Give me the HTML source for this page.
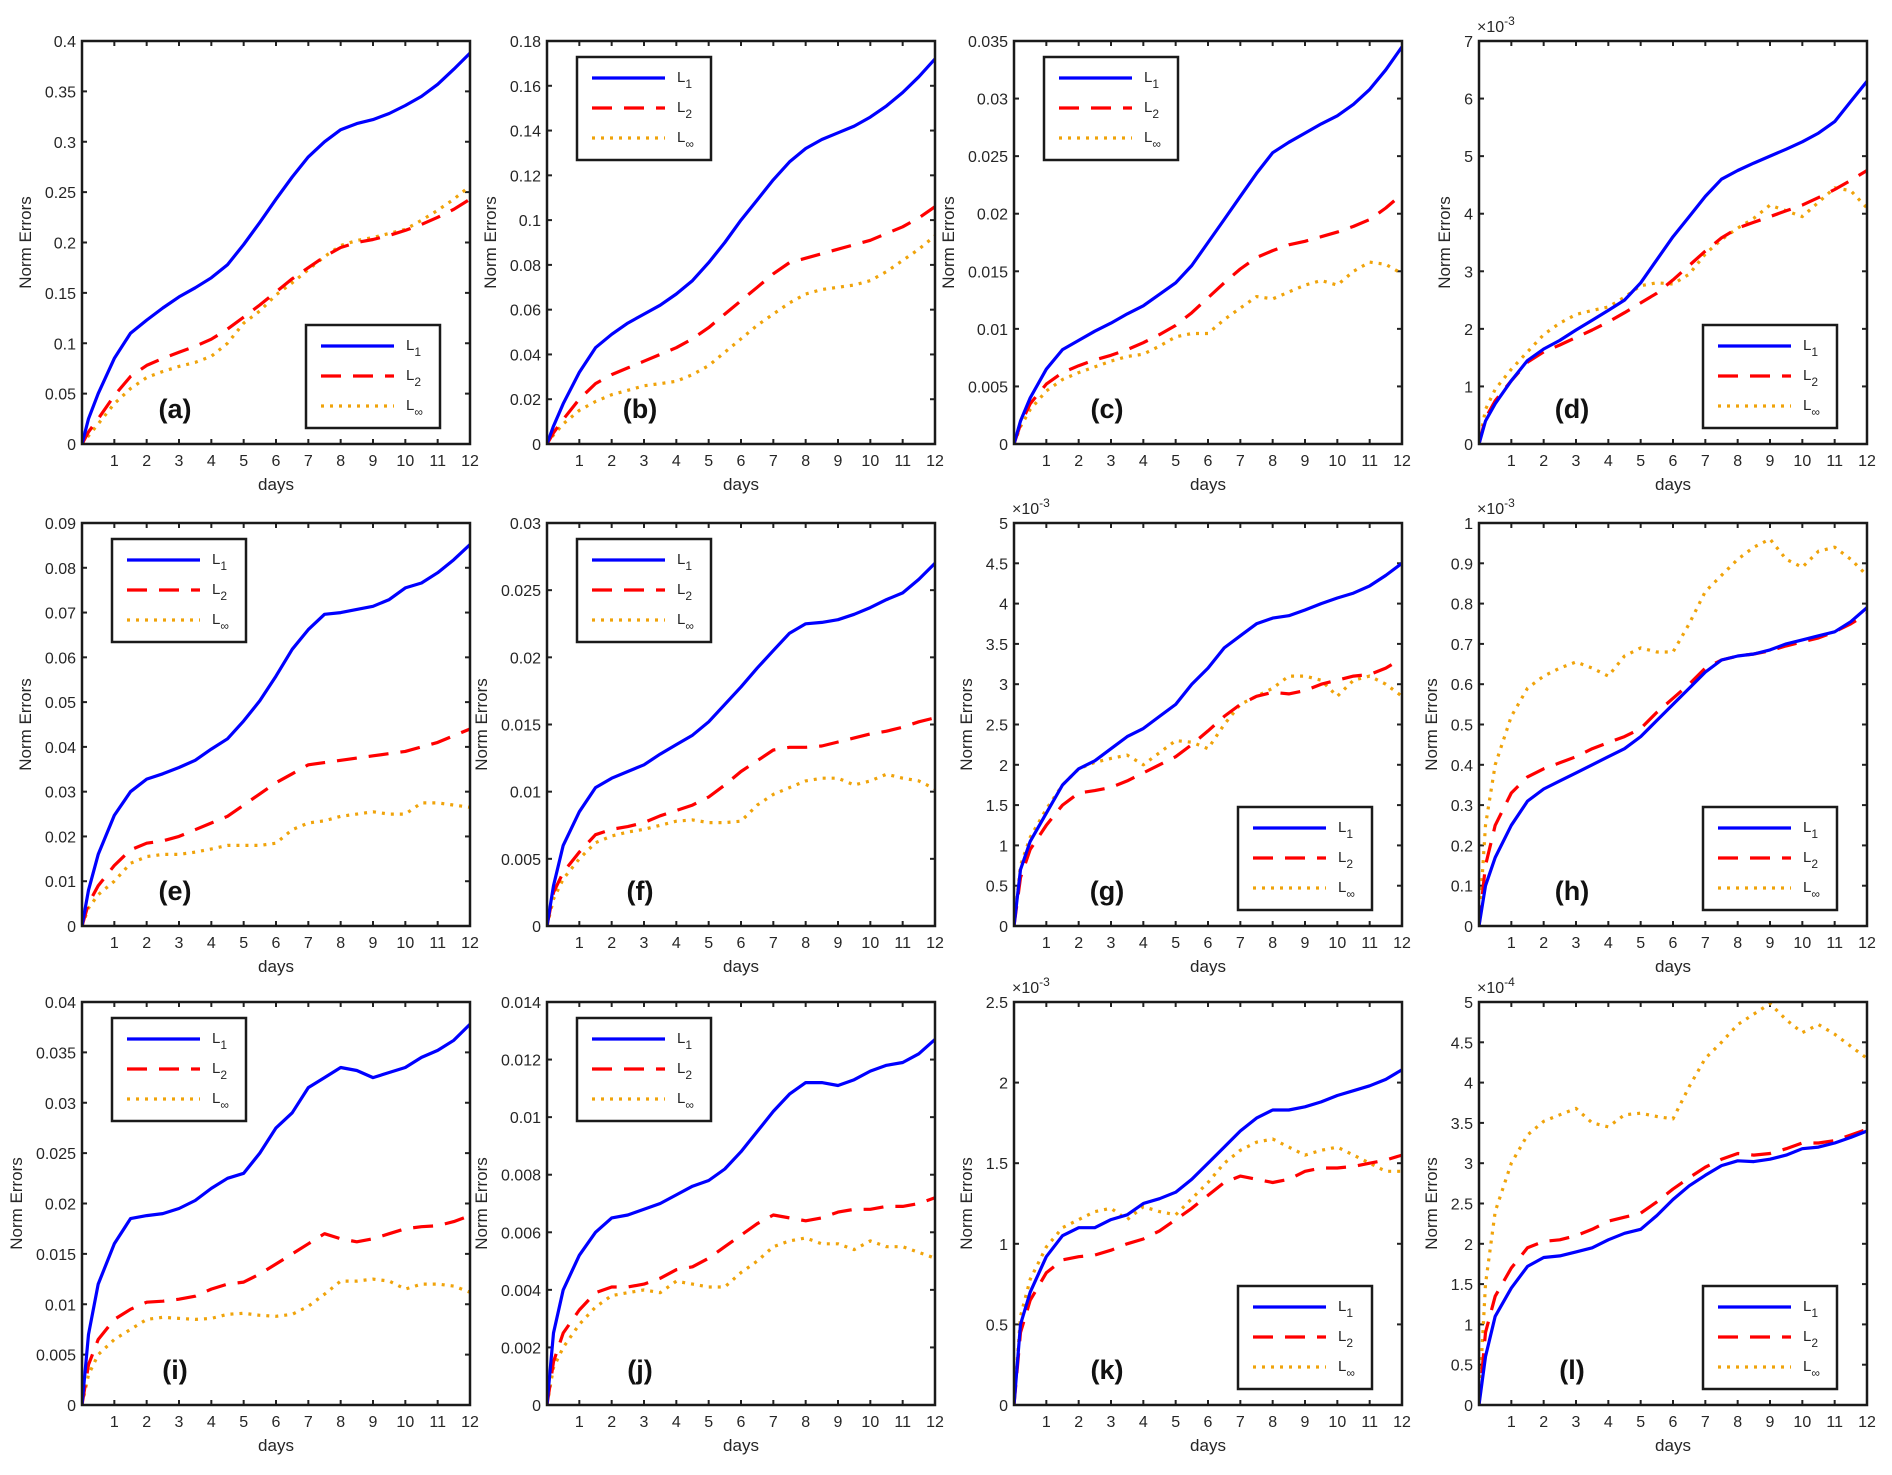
<!DOCTYPE html>
<html><head><meta charset="utf-8"><style>
html,body{margin:0;padding:0;background:#fff;}
svg{display:block;font-family:"Liberation Sans",Arial,sans-serif;}
</style></head><body>
<svg id="fig" width="1892" height="1475" viewBox="0 0 1892 1475" xmlns="http://www.w3.org/2000/svg"></svg>
<script>
const days=[0,0.2,0.5,1,1.5,2,2.5,3,3.5,4,4.5,5,5.5,6,6.5,7,7.5,8,8.5,9,9.5,10,10.5,11,11.5,12];
const xTicks=[1,2,3,4,5,6,7,8,9,10,11,12];
const panelLabels=["(a)","(b)","(c)","(d)","(e)","(f)","(g)","(h)","(i)","(j)","(k)","(l)"];
const yMaxes=[0.4,0.18,0.035,7,0.09,0.03,5,1,0.04,0.014,2.5,5];
const ySteps=[0.05,0.02,0.005,1,0.01,0.005,0.5,0.1,0.005,0.002,0.5,0.5];
const yExps=[null,null,null,-3,null,null,-3,-3,null,null,-3,-4];
const legendCorner=["br","tl","tl","br","tl","tl","br","br","tl","tl","br","br"];
const a_L1=[0,0.025,0.05,0.085,0.11,0.123,0.135,0.146,0.155,0.165,0.178,0.198,0.22,0.243,0.265,0.285,0.3,0.312,0.318,0.322,0.328,0.336,0.345,0.357,0.372,0.388];
const a_L2=[0,0.012,0.025,0.048,0.067,0.078,0.085,0.091,0.097,0.104,0.114,0.126,0.138,0.151,0.164,0.175,0.186,0.195,0.2,0.203,0.207,0.212,0.218,0.225,0.233,0.243];
const a_Linf=[0,0.008,0.02,0.04,0.055,0.066,0.072,0.077,0.081,0.087,0.1,0.12,0.132,0.148,0.16,0.173,0.186,0.197,0.202,0.205,0.209,0.213,0.222,0.232,0.243,0.256];
const b_L1=[0,0.008,0.018,0.032,0.043,0.049,0.054,0.058,0.062,0.067,0.073,0.081,0.09,0.1,0.109,0.118,0.126,0.132,0.136,0.139,0.142,0.146,0.151,0.157,0.164,0.172];
const b_L2=[0,0.005,0.011,0.02,0.027,0.031,0.034,0.037,0.04,0.043,0.047,0.052,0.058,0.064,0.07,0.076,0.081,0.083,0.085,0.087,0.089,0.091,0.094,0.097,0.101,0.106];
const b_Linf=[0,0.004,0.009,0.015,0.019,0.022,0.024,0.026,0.027,0.028,0.031,0.035,0.041,0.047,0.053,0.058,0.063,0.067,0.069,0.07,0.071,0.073,0.077,0.082,0.087,0.093];
const c_L1=[0,0.002,0.004,0.0065,0.0082,0.009,0.0098,0.0105,0.0113,0.012,0.013,0.014,0.0155,0.0175,0.0195,0.0215,0.0235,0.0253,0.0262,0.027,0.0278,0.0285,0.0295,0.0308,0.0325,0.0345];
const c_L2=[0,0.0017,0.0035,0.0052,0.0062,0.0068,0.0073,0.0077,0.0082,0.0088,0.0095,0.0103,0.0114,0.0127,0.014,0.0152,0.0162,0.0168,0.0173,0.0176,0.018,0.0184,0.0189,0.0195,0.0205,0.0217];
const c_Linf=[0,0.0015,0.003,0.0046,0.0056,0.0062,0.0067,0.0072,0.0076,0.0078,0.0085,0.0093,0.0096,0.0096,0.0108,0.0118,0.0128,0.0126,0.0132,0.0138,0.0142,0.0138,0.015,0.0158,0.0156,0.0148];
const d_L1=[0,0.4,0.7,1.1,1.45,1.65,1.8,1.98,2.15,2.32,2.5,2.8,3.2,3.6,3.95,4.3,4.6,4.75,4.88,5.0,5.12,5.25,5.4,5.6,5.95,6.3];
const d_L2=[0,0.45,0.75,1.1,1.42,1.6,1.72,1.85,1.98,2.12,2.28,2.45,2.62,2.85,3.1,3.35,3.58,3.75,3.85,3.95,4.05,4.15,4.28,4.42,4.58,4.75];
const d_Linf=[0,0.6,0.95,1.3,1.6,1.9,2.1,2.25,2.32,2.38,2.55,2.75,2.8,2.78,2.95,3.3,3.55,3.75,3.92,4.15,4.05,3.95,4.2,4.45,4.4,4.1];
const e_L1=[0,0.008,0.016,0.0247,0.03,0.0328,0.034,0.0354,0.037,0.0395,0.0418,0.0458,0.0503,0.0558,0.0618,0.0662,0.0696,0.07,0.0707,0.0714,0.0729,0.0755,0.0766,0.0789,0.0818,0.0852];
const e_L2=[0,0.005,0.009,0.0135,0.017,0.0185,0.019,0.02,0.0215,0.023,0.0245,0.027,0.0295,0.032,0.034,0.036,0.0365,0.037,0.0375,0.038,0.0385,0.039,0.04,0.041,0.0425,0.044];
const e_Linf=[0,0.004,0.007,0.01,0.014,0.0155,0.016,0.016,0.0165,0.0172,0.018,0.018,0.018,0.0185,0.0215,0.023,0.0235,0.0245,0.025,0.0255,0.025,0.025,0.0275,0.0275,0.027,0.0265];
const f_L1=[0,0.003,0.006,0.0085,0.0103,0.011,0.0115,0.012,0.0128,0.0135,0.0142,0.0152,0.0165,0.0178,0.0192,0.0205,0.0218,0.0225,0.0226,0.0228,0.0232,0.0237,0.0243,0.0248,0.0258,0.027];
const f_L2=[0,0.0025,0.004,0.0055,0.0068,0.0072,0.0074,0.0077,0.0082,0.0086,0.009,0.0096,0.0105,0.0115,0.0123,0.0131,0.0133,0.0133,0.0134,0.0137,0.014,0.0143,0.0145,0.0148,0.0152,0.0155];
const f_Linf=[0,0.002,0.0035,0.005,0.0062,0.0067,0.007,0.0072,0.0075,0.0078,0.0079,0.0077,0.0077,0.0078,0.009,0.0098,0.0103,0.0108,0.011,0.011,0.0105,0.0108,0.0113,0.011,0.0108,0.0102];
const g_L1=[0,0.7,1.05,1.4,1.75,1.95,2.05,2.2,2.35,2.45,2.6,2.75,3.0,3.2,3.45,3.6,3.75,3.82,3.85,3.92,4.0,4.07,4.13,4.22,4.35,4.5];
const g_L2=[0,0.6,0.95,1.25,1.5,1.65,1.68,1.72,1.8,1.9,2.0,2.1,2.25,2.42,2.6,2.75,2.85,2.9,2.88,2.92,3.0,3.05,3.1,3.12,3.2,3.32];
const g_Linf=[0,0.75,1.1,1.45,1.75,1.95,2.03,2.08,2.12,2.0,2.15,2.3,2.28,2.2,2.5,2.75,2.85,2.95,3.1,3.1,3.05,2.85,3.05,3.1,3.0,2.85];
const h_L1=[0,0.1,0.17,0.25,0.31,0.34,0.36,0.38,0.4,0.42,0.44,0.47,0.51,0.55,0.59,0.63,0.66,0.67,0.675,0.685,0.7,0.71,0.72,0.73,0.755,0.79];
const h_L2=[0,0.15,0.25,0.33,0.37,0.39,0.405,0.42,0.44,0.455,0.47,0.49,0.53,0.565,0.6,0.64,0.66,0.67,0.675,0.683,0.695,0.705,0.715,0.73,0.75,0.775];
const h_Linf=[0,0.25,0.4,0.52,0.59,0.62,0.64,0.655,0.64,0.62,0.67,0.69,0.68,0.68,0.75,0.83,0.87,0.91,0.94,0.96,0.91,0.89,0.93,0.94,0.91,0.87];
const i_L1=[0,0.007,0.012,0.016,0.0185,0.0188,0.019,0.0195,0.0203,0.0215,0.0225,0.023,0.025,0.0275,0.029,0.0315,0.0325,0.0335,0.0332,0.0325,0.033,0.0335,0.0345,0.0352,0.0362,0.0378];
const i_L2=[0,0.004,0.0065,0.0085,0.0095,0.0102,0.0103,0.0105,0.0108,0.0115,0.012,0.0122,0.013,0.014,0.015,0.016,0.017,0.0165,0.0162,0.0165,0.017,0.0175,0.0177,0.0178,0.0182,0.0188];
const i_Linf=[0,0.003,0.005,0.0065,0.0075,0.0085,0.0087,0.0086,0.0085,0.0086,0.009,0.0091,0.0089,0.0088,0.009,0.0098,0.011,0.0123,0.0123,0.0125,0.0123,0.0115,0.012,0.012,0.0118,0.0112];
const j_L1=[0,0.0025,0.004,0.0052,0.006,0.0065,0.0066,0.0068,0.007,0.0073,0.0076,0.0078,0.0082,0.0088,0.0095,0.0102,0.0108,0.0112,0.0112,0.0111,0.0113,0.0116,0.0118,0.0119,0.0122,0.0127];
const j_L2=[0,0.0015,0.0025,0.0033,0.0039,0.0041,0.0041,0.0042,0.0044,0.0047,0.0048,0.0051,0.0055,0.0059,0.0063,0.0066,0.0065,0.0064,0.0065,0.0067,0.0068,0.0068,0.0069,0.0069,0.007,0.0072];
const j_Linf=[0,0.0013,0.002,0.0028,0.0034,0.0038,0.0039,0.004,0.0039,0.0043,0.0042,0.0041,0.0041,0.0046,0.005,0.0055,0.0057,0.0058,0.0056,0.0056,0.0054,0.0057,0.0055,0.0055,0.0053,0.0051];
const k_L1=[0,0.5,0.7,0.92,1.05,1.1,1.1,1.15,1.18,1.25,1.28,1.32,1.4,1.5,1.6,1.7,1.78,1.83,1.83,1.85,1.88,1.92,1.95,1.98,2.02,2.08];
const k_L2=[0,0.45,0.65,0.82,0.9,0.92,0.93,0.96,1.0,1.03,1.08,1.15,1.22,1.3,1.38,1.42,1.4,1.38,1.4,1.45,1.47,1.47,1.48,1.5,1.52,1.55];
const k_Linf=[0,0.55,0.78,0.98,1.1,1.15,1.2,1.22,1.15,1.23,1.2,1.18,1.28,1.38,1.5,1.58,1.63,1.65,1.6,1.55,1.58,1.6,1.55,1.5,1.45,1.45];
const l_L1=[0,0.6,1.1,1.45,1.72,1.83,1.85,1.9,1.95,2.05,2.13,2.18,2.35,2.55,2.72,2.85,2.97,3.03,3.02,3.05,3.1,3.18,3.2,3.25,3.32,3.4];
const l_L2=[0,0.9,1.35,1.7,1.95,2.03,2.05,2.1,2.18,2.28,2.33,2.38,2.52,2.68,2.82,2.95,3.05,3.12,3.1,3.12,3.18,3.25,3.25,3.28,3.35,3.42];
const l_Linf=[0,1.5,2.4,3.0,3.35,3.52,3.6,3.68,3.5,3.45,3.6,3.62,3.58,3.55,3.95,4.3,4.5,4.72,4.85,4.98,4.78,4.62,4.72,4.6,4.45,4.3];

const seriesL1=[a_L1,b_L1,c_L1,d_L1,e_L1,f_L1,g_L1,h_L1,i_L1,j_L1,k_L1,l_L1];
const seriesL2=[a_L2,b_L2,c_L2,d_L2,e_L2,f_L2,g_L2,h_L2,i_L2,j_L2,k_L2,l_L2];
const seriesLinf=[a_Linf,b_Linf,c_Linf,d_Linf,e_Linf,f_Linf,g_Linf,h_Linf,i_Linf,j_Linf,k_Linf,l_Linf];

const NS="http://www.w3.org/2000/svg";
const svg=document.getElementById("fig");
const colLefts=[82,547,1014,1479], rowTops=[41,523,1002], W=388, H=403;
const styles=[
 {color:"#0000ff",dash:null,name:"l1"},
 {color:"#ff0000",dash:"20 12",name:"l2"},
 {color:"#f0a30a",dash:"3 6",name:"linf"}];
function mk(tag,attrs,parent){const e=document.createElementNS(NS,tag);for(const k in attrs)e.setAttribute(k,attrs[k]);(parent||svg).appendChild(e);return e;}
function fmt(v,step){let d=0;let s=step;while(Math.abs(s-Math.round(s))>1e-9&&d<6){s*=10;d++;}let t=v.toFixed(d);if(t.indexOf('.')>=0)t=t.replace(/0+$/,'').replace(/\.$/,'');return t;}
function textW(t){let w=0;for(const ch of t)w+=(ch==='.')?4.45:8.9;return w;}

for(let p=0;p<12;p++){
  const L=colLefts[p%4], T=rowTops[Math.floor(p/4)];
  const g=mk("g",{});
  
  
  const xS=d=>L+d/12*W;
  const yS=v=>T+H-v/yMaxes[p]*H;
  // ticks
  const nY=Math.round(yMaxes[p]/ySteps[p]);
  let maxW=0;
  for(let k=0;k<=nY;k++){
    const v=k*ySteps[p], y=yS(v);
    mk("line",{x1:L,x2:L+5,y1:y,y2:y,stroke:"#222","stroke-width":2},g);
    mk("line",{x1:L+W-5,x2:L+W,y1:y,y2:y,stroke:"#222","stroke-width":2},g);
    const lbl=fmt(v,ySteps[p]);
    maxW=Math.max(maxW,textW(lbl));
    const t=mk("text",{x:L-6,y:y+6,"text-anchor":"end","font-size":16,fill:"#262626"},g);
    t.textContent=lbl;
    
    
  }
  for(const d of xTicks){
    const x=xS(d);
    mk("line",{x1:x,x2:x,y1:T+H,y2:T+H-5,stroke:"#222","stroke-width":2},g);
    mk("line",{x1:x,x2:x,y1:T,y2:T+5,stroke:"#222","stroke-width":2},g);
    const t=mk("text",{x:x,y:T+H+22,"text-anchor":"middle","font-size":16,fill:"#262626"},g);
    t.textContent=String(d);
    
    
  }
  // series
  const clipId="clip"+p;
  const cp=mk("clipPath",{id:clipId},g);mk("rect",{x:L,y:T-4,width:W,height:H+4},cp);
  const all=[seriesL1[p],seriesL2[p],seriesLinf[p]];
  for(let s=2;s>=0;s--){
    const vals=all[s];
    const pts=days.map((d,i)=>xS(d).toFixed(1)+","+yS(vals[i]).toFixed(1)).join(" ");
    const a={points:pts,fill:"none",stroke:styles[s].color,"stroke-width":3.2,"stroke-linejoin":"round","clip-path":"url(#"+clipId+")"};
    if(styles[s].dash)a["stroke-dasharray"]=styles[s].dash;
    const pl=mk("polyline",a,g);
    
    
  }
  // frame
  const fr=mk("rect",{x:L,y:T,width:W,height:H,fill:"none",stroke:"#1a1a1a","stroke-width":2.5},g);
  
  
  // exponent
  if(yExps[p]!==null){
    const t=mk("text",{x:L-2,y:T-9,"font-size":16,fill:"#262626"},g);
    t.innerHTML='×10<tspan dy="-7" font-size="12">'+yExps[p]+'</tspan>';
    
    
  }
  // axis titles
  const yt=mk("text",{x:0,y:0,"text-anchor":"middle","font-size":17,fill:"#262626",transform:"translate("+(L-6-maxW-14)+","+(T+H/2)+") rotate(-90)"},g);
  yt.textContent="Norm Errors";
  
  
  const xt=mk("text",{x:L+W/2,y:T+H+46,"text-anchor":"middle","font-size":17,fill:"#262626"},g);
  xt.textContent="days";
  
  
  // panel label
  const pt=mk("text",{x:L+93,y:T+H-26,"text-anchor":"middle","font-size":27,"font-weight":"bold",fill:"#111"},g);
  pt.textContent=panelLabels[p];
  
  
  // legend
  const lw=134, lh=103;
  const lx=legendCorner[p]==="br"?L+W-30-lw:L+30;
  const ly=legendCorner[p]==="br"?T+H-16-lh:T+16;
  const lg=mk("g",{},g);
  
  
  mk("rect",{x:lx,y:ly,width:lw,height:lh,fill:"#fff",stroke:"#1a1a1a","stroke-width":2.5},lg);
  const subs=["1","2","∞"];
  for(let s=0;s<3;s++){
    const yy=ly+21+s*30;
    const a={x1:lx+15,x2:lx+88,y1:yy,y2:yy,stroke:styles[s].color,"stroke-width":3.2};
    if(styles[s].dash)a["stroke-dasharray"]=styles[s].dash;
    const ln=mk("line",a,lg);
    
    
    const t=mk("text",{x:lx+100,y:yy+4,"font-size":15,fill:"#262626"},lg);
    t.innerHTML='L<tspan dy="6" font-size="12">'+subs[s]+'</tspan>';
    
    
  }
}
</script>
</body></html>
